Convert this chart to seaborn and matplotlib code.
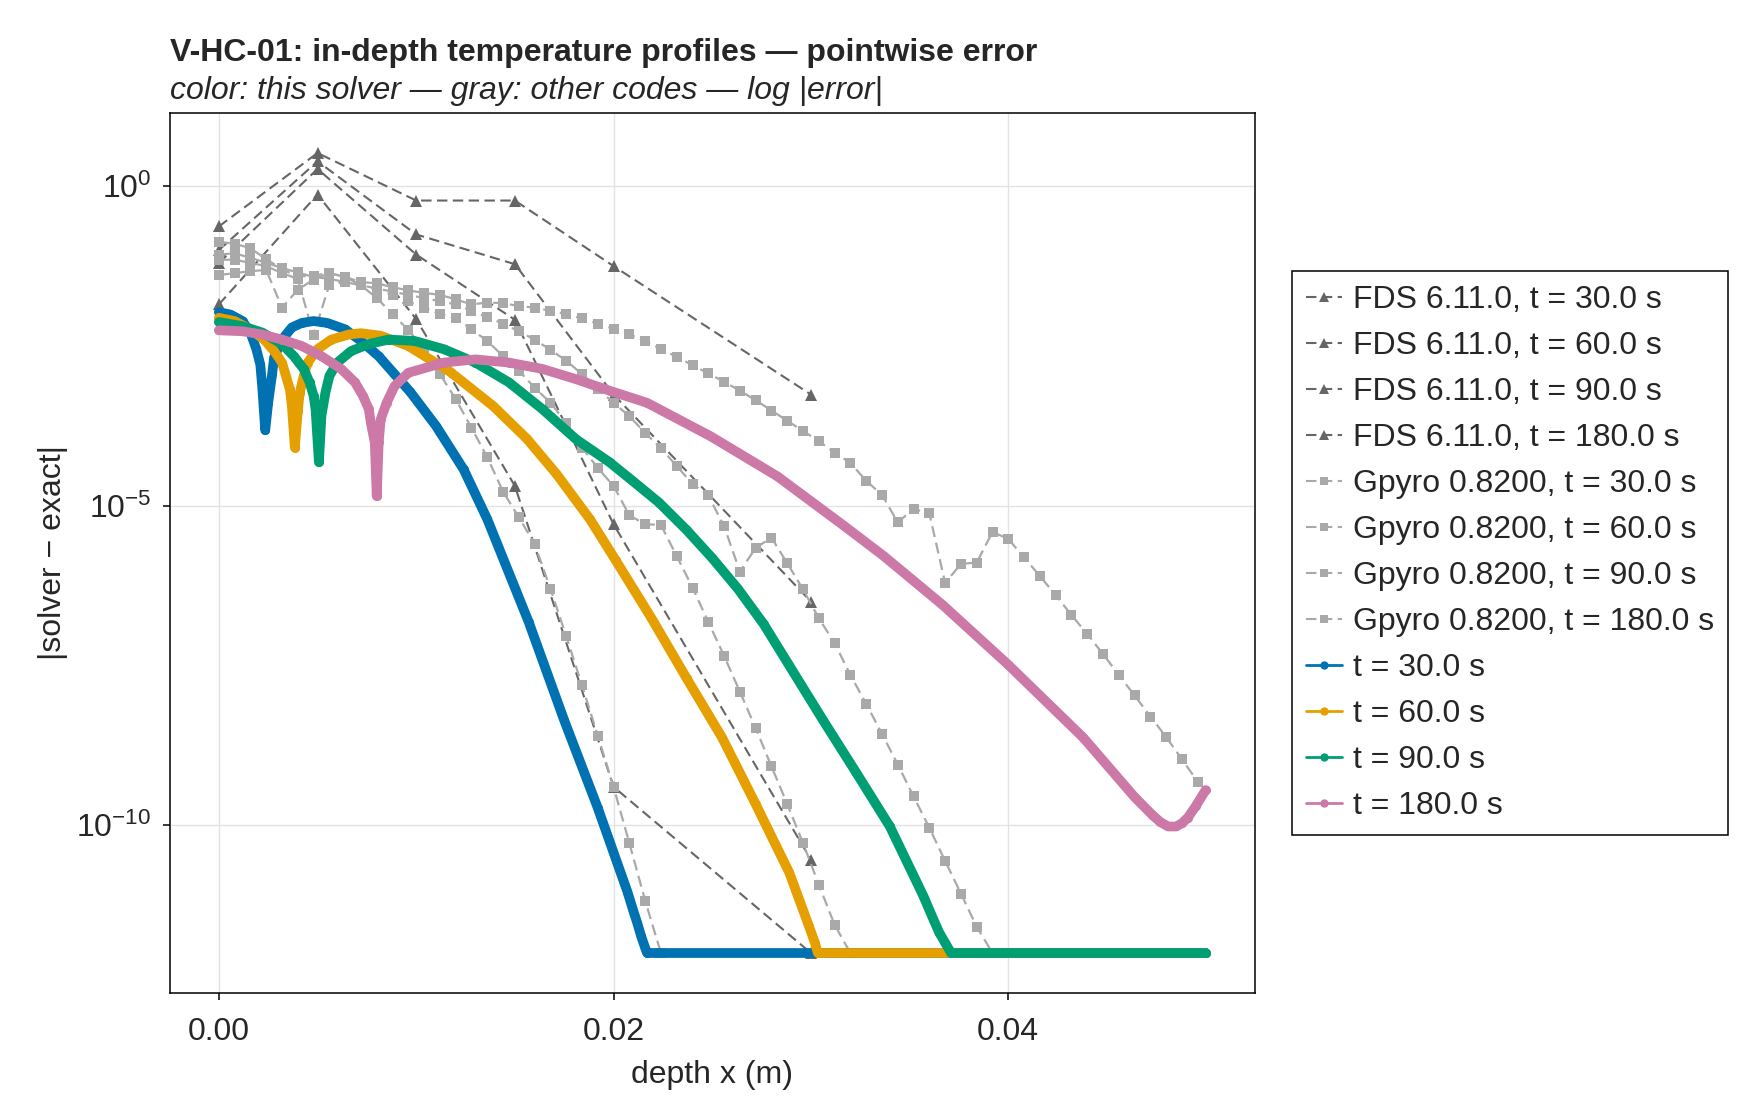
import numpy as np
import matplotlib
matplotlib.use("Agg")
import matplotlib.pyplot as plt
from matplotlib.lines import Line2D
import seaborn as sns

# === values (log10 of |solver - exact|) ===
fds_x = [0.0, 0.005, 0.01, 0.015, 0.02, 0.03]
fds_t30 = [-1.85, -0.13, -2.08, -4.69, -9.40, -12.0]
fds_t60 = [-1.20, 0.27, -1.07, -2.09, -5.29, -10.54]
fds_t90 = [-1.00, 0.39, -0.755, -1.22, -3.26, -6.50]
fds_t180 = [-0.63, 0.52, -0.224, -0.224, -1.25, -3.26]

gpyro_dx = 0.0008  # Gpyro node spacing (m)
gpyro_t30 = [-1.39, -1.36, -1.33, -1.31, -1.90, -1.62, -1.46, -1.36, -1.42, -1.55,
             -1.75, -2.00, -2.25, -2.55, -2.94, -3.33, -3.78, -4.24, -4.78, -5.18,
             -5.60, -6.30, -7.04, -7.81, -8.60, -9.40, -10.28, -11.18, -12.0]
gpyro_t60 = [-1.15, -1.15, -1.20, -1.25, -1.36, -1.45, -2.33, -1.54, -1.50, -1.55,
             -1.62, -1.70, -1.80, -1.90, -2.00, -2.06, -2.24, -2.42, -2.66, -2.89,
             -3.15, -3.39, -3.70, -4.09, -4.41, -4.69, -5.15, -5.29, -5.30, -5.79,
             -6.28, -6.82, -7.35, -7.91, -8.48, -9.08, -9.67, -10.28, -10.93, -11.56,
             -12.0]
gpyro_t90 = [-1.07, -1.05, -1.12, -1.20, -1.28, -1.35, -1.42, -1.45, -1.50, -1.55,
             -1.60, -1.65, -1.70, -1.75, -1.80, -1.85, -1.95, -2.05, -2.15, -2.27,
             -2.40, -2.56, -2.73, -2.94, -3.17, -3.39, -3.60, -3.86, -4.10, -4.38,
             -4.66, -4.84, -5.32, -6.03, -5.66, -5.50, -5.90, -6.31, -6.76, -7.15,
             -7.65, -8.10, -8.57, -9.05, -9.55, -10.04, -10.56, -11.07, -11.59, -12.0]
gpyro_t180 = [-0.87, -0.90, -0.97, -1.14, -1.30, -1.41, -1.40, -1.36, -1.42, -1.50,
              -1.52, -1.58, -1.63, -1.67, -1.70, -1.77, -1.85, -1.82, -1.83, -1.875,
              -1.90, -1.95, -2.00, -2.07, -2.15, -2.23, -2.32, -2.42, -2.55, -2.67,
              -2.80, -2.93, -3.06, -3.20, -3.35, -3.51, -3.67, -3.83, -3.99, -4.17,
              -4.33, -4.61, -4.83, -5.26, -5.05, -5.12, -6.21, -5.91, -5.89, -5.41,
              -5.52, -5.81, -6.10, -6.40, -6.71, -7.01, -7.32, -7.65, -7.97, -8.30,
              -8.62, -8.97, -9.32]

t30_x = [0.0, 0.0006, 0.0012, 0.0016, 0.0019, 0.0021, 0.0022, 0.00235, 0.0025, 0.0027,
         0.0028, 0.0032, 0.0037, 0.0042, 0.0048, 0.0055, 0.0064, 0.0072, 0.0081, 0.0089,
         0.0097, 0.0110, 0.0124, 0.0136, 0.0157, 0.0175, 0.0192, 0.0207, 0.0210, 0.0212,
         0.0214, 0.0216, 0.0217, 0.0500]
t30_err = [-1.97, -2.01, -2.11, -2.29, -2.55, -2.79, -3.15, -3.82, -3.39, -2.94,
           -2.68, -2.40, -2.21, -2.14, -2.11, -2.14, -2.24, -2.42, -2.66, -2.94,
           -3.22, -3.75, -4.43, -5.21, -6.82, -8.36, -9.73, -11.04, -11.34, -11.53,
           -11.74, -11.92, -12.0, -12.0]

t60_x = [0.0, 0.0008, 0.0016, 0.0023, 0.0028, 0.0032, 0.0034, 0.0036, 0.0037, 0.00385,
         0.0040, 0.0041, 0.0043, 0.0045, 0.0050, 0.0057, 0.0066, 0.0072, 0.0082, 0.0096,
         0.0117, 0.0139, 0.0156, 0.0171, 0.0188, 0.0201, 0.0219, 0.0237, 0.0255, 0.0272,
         0.0289, 0.0299, 0.0302, 0.03035, 0.0500]
t60_err = [-2.06, -2.11, -2.24, -2.40, -2.58, -2.76, -2.97, -3.18, -3.44, -4.09,
           -3.52, -3.23, -2.97, -2.76, -2.55, -2.40, -2.32, -2.30, -2.34, -2.50,
           -2.90, -3.44, -3.95, -4.50, -5.21, -5.85, -6.75, -7.70, -8.63, -9.67,
           -10.74, -11.58, -11.84, -12.0, -12.0]

t90_x = [0.0, 0.0012, 0.0022, 0.0032, 0.0038, 0.0043, 0.0046, 0.0048, 0.0049, 0.00507,
         0.0052, 0.0054, 0.0056, 0.0060, 0.0067, 0.0076, 0.0086, 0.0099, 0.0114, 0.0130,
         0.0147, 0.0164, 0.0181, 0.0198, 0.0210, 0.0223, 0.0237, 0.0250, 0.0263, 0.0276,
         0.0289, 0.0306, 0.0323, 0.0340, 0.0357, 0.0362, 0.0365, 0.0368, 0.0371, 0.0500]
t90_err = [-2.125, -2.19, -2.29, -2.47, -2.66, -2.86, -3.07, -3.28, -3.49, -4.32,
           -3.59, -3.23, -2.97, -2.76, -2.58, -2.47, -2.40, -2.42, -2.55, -2.76,
           -3.07, -3.49, -3.96, -4.32, -4.62, -4.95, -5.38, -5.82, -6.30, -6.85,
           -7.50, -8.35, -9.18, -10.02, -11.11, -11.47, -11.68, -11.84, -12.0, -12.0]

t180_x = [0.0, 0.0012, 0.0022, 0.0032, 0.0042, 0.0052, 0.0062, 0.0069, 0.0073, 0.0076,
          0.0077, 0.0079, 0.0080, 0.0081, 0.0082, 0.0085, 0.0089, 0.0096, 0.0114, 0.0130,
          0.0147, 0.0164, 0.0181, 0.0198, 0.0217, 0.0249, 0.0283, 0.0317, 0.0337, 0.0367,
          0.0400, 0.0438, 0.0464, 0.0473, 0.0477, 0.0481, 0.0485, 0.0488, 0.0491, 0.0495,
          0.0500]
t180_err = [-2.255, -2.27, -2.32, -2.40, -2.50, -2.66, -2.86, -3.07, -3.28, -3.49,
            -3.70, -4.01, -4.85, -4.01, -3.65, -3.39, -3.13, -2.92, -2.76, -2.71,
            -2.76, -2.86, -3.02, -3.20, -3.39, -3.91, -4.54, -5.32, -5.79, -6.56,
            -7.49, -8.63, -9.56, -9.84, -9.95, -10.02, -10.02, -9.97, -9.88, -9.70,
            -9.45]

fds_series = [("FDS 6.11.0, t = 30.0 s", fds_t30), ("FDS 6.11.0, t = 60.0 s", fds_t60),
              ("FDS 6.11.0, t = 90.0 s", fds_t90), ("FDS 6.11.0, t = 180.0 s", fds_t180)]
gpyro_series = [("Gpyro 0.8200, t = 30.0 s", gpyro_t30), ("Gpyro 0.8200, t = 60.0 s", gpyro_t60),
                ("Gpyro 0.8200, t = 90.0 s", gpyro_t90), ("Gpyro 0.8200, t = 180.0 s", gpyro_t180)]
solver_series = [("t = 30.0 s", t30_x, t30_err, "#0072B2"),
                 ("t = 60.0 s", t60_x, t60_err, "#E69F00"),
                 ("t = 90.0 s", t90_x, t90_err, "#009E73"),
                 ("t = 180.0 s", t180_x, t180_err, "#CC79A7")]

FDS_GRAY = "#666666"
GPYRO_GRAY = "#a9a9a9"
DASH = (0, (5, 2.6))

sns.set_theme(style="white")
plt.rcParams["font.family"] = ["Liberation Sans", "DejaVu Sans"]
plt.rcParams["mathtext.fontset"] = "custom"
plt.rcParams["mathtext.rm"] = "Liberation Sans"
plt.rcParams["mathtext.it"] = "Liberation Sans:italic"

fig = plt.figure(figsize=(17.6, 11.2), dpi=100)
ax = fig.add_axes([169.5 / 1760, 1 - 993 / 1120, (1255 - 169.5) / 1760, (993 - 113) / 1120])
ax.set_yscale("log")

for label, vals in fds_series:
    sns.lineplot(x=fds_x, y=10.0 ** np.array(vals), ax=ax, color=FDS_GRAY, linewidth=1.5,
                 linestyle=DASH, marker="^", markersize=8.5, markeredgewidth=0,
                 estimator=None, sort=False, legend=False)

for label, vals in gpyro_series:
    gx = np.arange(len(vals)) * gpyro_dx
    sns.lineplot(x=gx, y=10.0 ** np.array(vals), ax=ax, color=GPYRO_GRAY, linewidth=1.6,
                 linestyle=DASH, marker="s", markersize=6.5, markeredgewidth=0,
                 estimator=None, sort=False, legend=False)

for label, xs, vals, col in solver_series:
    sns.lineplot(x=xs, y=10.0 ** np.array(vals), ax=ax, color=col, linewidth=7.0,
                 marker="o", markersize=6.5, markeredgewidth=0,
                 solid_capstyle="round", solid_joinstyle="round",
                 estimator=None, sort=False, legend=False)

ax.set_xlim(-0.0025, 0.0525)
ax.set_ylim(10 ** -12.626, 10 ** 1.146)
ax.set_xticks([0.0, 0.02, 0.04])
ax.set_xticklabels(["0.00", "0.02", "0.04"])
ax.set_yticks([1e-10, 1e-5, 1e0])
ax.set_yticklabels([r"$10^{-10}$", r"$10^{-5}$", r"$10^{0}$"])
ax.yaxis.set_minor_locator(matplotlib.ticker.NullLocator())
ax.grid(True, which="major", color="#e3e3e3", lw=1.0)
ax.set_axisbelow(True)
for s in ax.spines.values():
    s.set_color("black")
    s.set_linewidth(1.1)
ax.tick_params(axis="both", which="major", direction="out", length=5, width=1.1,
               color="black", labelsize=23, bottom=True, left=True)
ax.tick_params(axis="x", pad=12)
ax.tick_params(axis="y", pad=8)

ax.set_xlabel("depth x (m)", fontsize=23, labelpad=10)
ax.set_ylabel("|solver − exact|", fontsize=23, labelpad=6)

fig.text(169.5 / 1760, 1 - 53 / 1120, "V-HC-01: in-depth temperature profiles — pointwise error",
         fontsize=23, fontweight="bold", ha="left", va="center")
fig.text(169.5 / 1760, 1 - 91 / 1120, "color: this solver — gray: other codes — log |error|",
         fontsize=23, style="italic", ha="left", va="center")

handles = []
labels = []
for label, _ in fds_series:
    handles.append(Line2D([], [], color=FDS_GRAY, lw=1.5, linestyle=DASH, marker="^",
                          markersize=7, markeredgewidth=0))
    labels.append(label)
for label, _ in gpyro_series:
    handles.append(Line2D([], [], color=GPYRO_GRAY, lw=1.5, linestyle=DASH, marker="s",
                          markersize=6, markeredgewidth=0))
    labels.append(label)
for label, _, _, col in solver_series:
    handles.append(Line2D([], [], color=col, lw=2.0, marker="o", markersize=6,
                          markeredgewidth=0))
    labels.append(label)

leg = fig.legend(handles, labels, loc="center left", bbox_to_anchor=(1292 / 1760, 1 - 553 / 1120),
                 frameon=True, fancybox=False, shadow=False, fontsize=23,
                 handlelength=1.1, handletextpad=0.35, labelspacing=0.50, borderpad=0.45,
                 borderaxespad=0)
leg.get_frame().set_edgecolor("black")
leg.get_frame().set_linewidth(1.1)
leg.get_frame().set_alpha(1)

fig.savefig("out.png", dpi=100, facecolor="white")
